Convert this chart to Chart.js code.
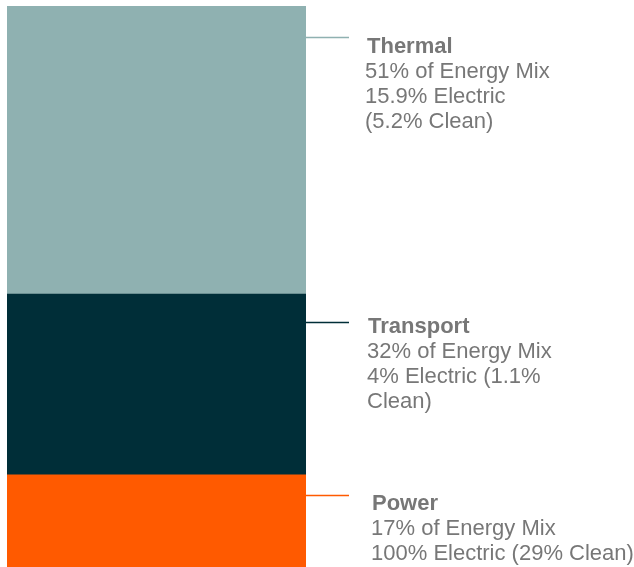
<!DOCTYPE html>
<html>
<head>
<meta charset="utf-8">
<script src="https://cdn.jsdelivr.net/npm/chart.js@4"></script>
<style>
  html, body { margin: 0; padding: 0; background: #fff; }
  #wrap { width: 634px; height: 567px; position: relative; overflow: hidden; }
  #inner { width: 634px; height: 571px; position: absolute; left: 0; top: 0; }
</style>
</head>
<body>
<div id="wrap"><div id="inner"><canvas id="mix"></canvas></div></div>
<script>
// stacked bottom -> top
const sectors = ['Power', 'Transport', 'Thermal'];
const shares = [17, 32, 51];
const sectorColors = ['#FF5A00', '#002E38', '#8FB1B1'];
const noteLines = [
  ['17% of Energy Mix', '100% Electric (29% Clean)'],
  ['32% of Energy Mix', '4% Electric (1.1%', 'Clean)'],
  ['51% of Energy Mix', '15.9% Electric', '(5.2% Clean)']
];

// callout placement relative to top of each segment
const callout = [
  { lineDy: 20, textDy: 35, titleX: 372, bodyX: 371 },
  { lineDy: 28, textDy: 39, titleX: 368, bodyX: 367 },
  { lineDy: 31, textDy: 47, titleX: 367, bodyX: 365 }
];

const calloutPlugin = {
  id: 'callouts',
  afterDatasetsDraw(chart) {
    const ctx = chart.ctx;
    ctx.save();
    chart.data.datasets.forEach((ds, i) => {
      const bar = chart.getDatasetMeta(i).data[0];
      const top = Math.min(bar.y, bar.base);
      const right = bar.x + bar.width / 2;
      const c = callout[i];
      const ly = Math.round(top + c.lineDy) + 0.5;
      ctx.strokeStyle = sectorColors[i];
      ctx.lineWidth = 1.3;
      ctx.beginPath();
      ctx.moveTo(right, ly);
      ctx.lineTo(349, ly);
      ctx.stroke();

      ctx.fillStyle = '#777777';
      ctx.textBaseline = 'alphabetic';
      ctx.textAlign = 'left';
      let y = top + c.textDy;
      ctx.font = 'bold 22px "Liberation Sans", Arial, sans-serif';
      ctx.fillText(sectors[i], c.titleX, y);
      ctx.font = '22px "Liberation Sans", Arial, sans-serif';
      noteLines[i].forEach(t => {
        y += 25;
        ctx.fillText(t, c.bodyX, y);
      });
    });
    ctx.restore();
  }
};

new Chart(document.getElementById('mix'), {
  type: 'bar',
  data: {
    labels: ['Energy Mix'],
    datasets: sectors.map((s, i) => ({
      label: s,
      data: [shares[i]],
      backgroundColor: sectorColors[i],
      borderWidth: 0,
      barPercentage: 1,
      categoryPercentage: 1
    }))
  },
  options: {
    responsive: true,
    maintainAspectRatio: false,
    animation: false,
    layout: { padding: { left: 7, top: 6, right: 328, bottom: 0 } },
    plugins: { legend: { display: false }, tooltip: { enabled: false } },
    scales: {
      x: { stacked: true, display: false },
      y: { stacked: true, display: false, min: 0, max: 100 }
    }
  },
  plugins: [calloutPlugin]
});
</script>
</body>
</html>
